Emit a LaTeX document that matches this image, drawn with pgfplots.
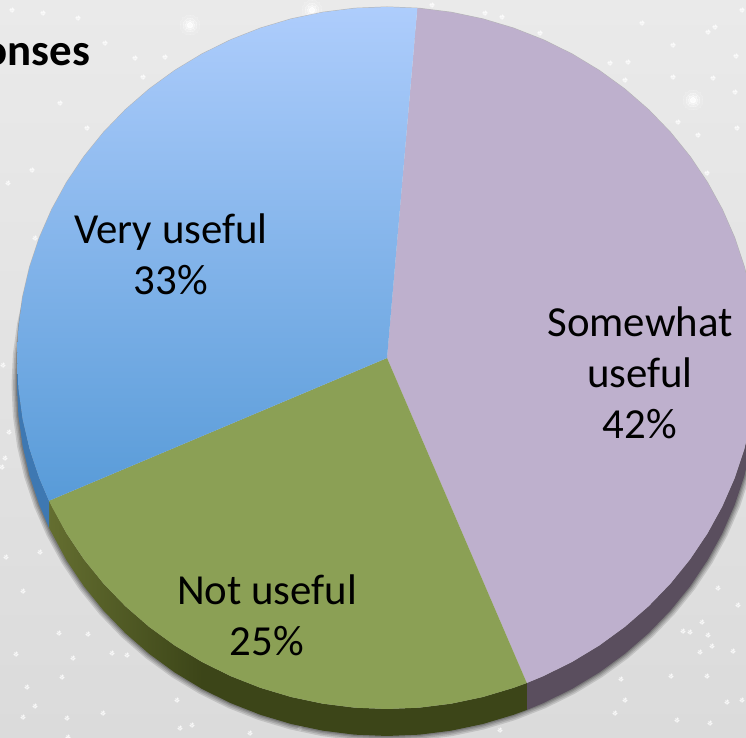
\documentclass[border=0pt]{standalone}
\usepackage{fontspec}
\setmainfont{Carlito}
\usepackage{pgfplots}
\usepackage{pgfplotstable}
\pgfplotsset{compat=1.18}
\definecolor{bgT}{RGB}{234,234,234}
\definecolor{bgM}{RGB}{236,236,236}
\definecolor{bgB}{RGB}{219,219,219}
\definecolor{blueT}{RGB}{174,205,252}
\definecolor{blueM}{RGB}{132,179,233}
\definecolor{blueB}{RGB}{88,155,216}
\definecolor{purp}{RGB}{190,176,205}
\definecolor{grn}{RGB}{139,160,85}
\definecolor{purpS}{RGB}{90,78,94}
\definecolor{grnD}{RGB}{60,69,24}
\definecolor{grnL}{RGB}{100,110,48}
\definecolor{blueS}{RGB}{62,120,178}
\pgfplotstableread[row sep=\\]{
a r\\0 1\\5 1\\10 1\\15 1\\20 1\\25 1\\30 1\\35 1\\40 1\\45 1\\50 1\\55 1\\60 1\\65 1\\70 1\\75 1\\80 1\\85 1\\90 1\\95 1\\100 1\\105 1\\110 1\\115 1\\120 1\\125 1\\130 1\\135 1\\140 1\\145 1\\150 1\\155 1\\160 1\\165 1\\170 1\\175 1\\180 1\\185 1\\190 1\\195 1\\200 1\\205 1\\210 1\\215 1\\220 1\\225 1\\230 1\\235 1\\240 1\\245 1\\250 1\\255 1\\260 1\\265 1\\270 1\\275 1\\280 1\\285 1\\290 1\\295 1\\300 1\\305 1\\310 1\\315 1\\320 1\\325 1\\330 1\\335 1\\340 1\\345 1\\350 1\\355 1\\360 1\\
}\ring
\pgfplotstableread[row sep=\\]{
x y\\698 135\\707 173\\736 56\\742 10\\715 27\\737 128\\735 92\\502 17\\485 13\\540 33\\610 63\\642 23\\673 45\\708 32\\673 77\\625 80\\628 62\\713 78\\678 122\\60 103\\87 128\\32 170\\8 183\\35 238\\12 10\\43 13\\165 57\\143 77\\105 43\\135 58\\78 18\\432 5\\9 432\\3 365\\2 467\\5 458\\40 552\\6 557\\23 591\\88 634\\59 633\\16 654\\73 658\\112 653\\127 655\\62 677\\27 687\\35 706\\23 717\\67 718\\103 713\\177 700\\180 728\\192 725\\68 737\\621 679\\671 676\\707 676\\712 646\\702 622\\708 635\\733 651\\700 652\\683 631\\690 632\\615 713\\710 723\\677 720\\742 700\\718 588\\738 605\\625 700\\727 702\\300 728\\500 730\\250 733\\
}\stars
\begin{document}
\begin{tikzpicture}
\useasboundingbox (0,0) rectangle (746bp,738bp);
\clip (0,0) rectangle (746bp,738bp);
% background in picture pixels
\begin{axis}[at={(0,0)},anchor=south west,scale only axis,width=746bp,height=738bp,
  hide axis,xmin=0,xmax=746,ymin=0,ymax=738,y dir=reverse]
\addplot[draw=none,top color=bgT,middle color=bgM,bottom color=bgB] coordinates {(0,0)(746,0)(746,738)(0,738)};
\addplot[white,only marks,mark=*,mark size=2.4pt,opacity=0.2,mark options={white,line width=0pt}] table[x=x,y=y] {\stars};
\addplot[white,only marks,mark=*,mark size=1.1pt,opacity=0.5,mark options={white,line width=0pt}] table[x=x,y=y] {\stars};
% large glows
\addplot[white,only marks,mark=*,mark size=10pt,opacity=0.12,mark options={white,line width=0pt}] coordinates {(693,100)(190,25)(312,10)};
\addplot[white,only marks,mark=*,mark size=7pt,opacity=0.2,mark options={white,line width=0pt}] coordinates {(693,100)(190,25)(312,10)};
\addplot[white,only marks,mark=*,mark size=4.5pt,opacity=0.35,mark options={white,line width=0pt}] coordinates {(693,100)(190,25)(312,10)};
\addplot[white,only marks,mark=*,mark size=2.5pt,opacity=0.7,mark options={white,line width=0pt}] coordinates {(693,100)(190,25)(312,10)};
\end{axis}
% pie
\begin{axis}[at={(0,0)},anchor=south west,scale only axis,width=746bp,height=738bp,
  hide axis,xmin=-1.04595,xmax=0.97027,ymin=-1.08262,ymax=1.01994]
% shadow
\addplot[data cs=polar,draw=black,opacity=0.12,line width=11bp,yshift=-27bp,no marks] table[x=a,y=r] {\ring};
\addplot[data cs=polar,draw=black,opacity=0.12,line width=8bp,yshift=-27bp,no marks] table[x=a,y=r] {\ring};
\addplot[data cs=polar,draw=black,opacity=0.14,line width=5bp,yshift=-27bp,no marks] table[x=a,y=r] {\ring};
\addplot[data cs=polar,draw=black,opacity=0.16,line width=2.5bp,yshift=-27bp,no marks] table[x=a,y=r] {\ring};
\addplot[data cs=polar,draw=black,opacity=0.22,line width=1bp,no marks] table[x=a,y=r] {\ring};
% sides
\addplot[draw=none,fill=purpS] coordinates {
(.3778,-.9259)(.4226,-.9063)(.5,-.8660)(.5736,-.8192)(.6428,-.7660)(.7071,-.7071)(.7660,-.6428)(.8192,-.5736)(.8660,-.5)(.9063,-.4226)(.9397,-.3420)(.9659,-.2588)(.9848,-.1736)(.9962,-.0872)(1,0)
(1,-.0769)(.9962,-.1641)(.9848,-.2505)(.9659,-.3357)(.9397,-.4189)(.9063,-.4995)(.8660,-.5769)(.8192,-.6505)(.7660,-.7197)(.7071,-.7840)(.6428,-.8429)(.5736,-.8961)(.5,-.9429)(.4226,-.9832)(.3778,-1.0028)};
\addplot[draw=none,left color=grnL,right color=grnD] coordinates {
(-.9135,-.4067)(-.8660,-.5)(-.8192,-.5736)(-.7660,-.6428)(-.7071,-.7071)(-.6428,-.7660)(-.5736,-.8192)(-.5,-.8660)
(-.5,-.9429)(-.5736,-.8961)(-.6428,-.8429)(-.7071,-.7840)(-.7660,-.7197)(-.8192,-.6505)(-.8660,-.5769)(-.9135,-.4836)};
\addplot[draw=none,fill=grnD] coordinates {
(-.5,-.8660)(-.4226,-.9063)(-.3420,-.9397)(-.2588,-.9659)(-.1736,-.9848)(-.0872,-.9962)(0,-1)(.0872,-.9962)(.1736,-.9848)(.2588,-.9659)(.3420,-.9397)(.3778,-.9259)
(.3778,-1.0028)(.3420,-1.0166)(.2588,-1.0428)(.1736,-1.0617)(.0872,-1.0731)(0,-1.0769)(-.0872,-1.0731)(-.1736,-1.0617)(-.2588,-1.0428)(-.3420,-1.0166)(-.4226,-.9832)(-.5,-.9429)};
\addplot[draw=none,fill=blueS] coordinates {
(-1,0)(-.9962,-.0872)(-.9848,-.1736)(-.9659,-.2588)(-.9397,-.3420)(-.9135,-.4067)
(-.9135,-.4836)(-.9397,-.4189)(-.9659,-.3357)(-.9848,-.2505)(-.9962,-.1641)(-1,-.0769)};
% slices (angle, radius)
\addplot[data cs=polar,draw=none,fill=purp] coordinates {
(0,0)(85.3,1)(85,1)(80,1)(75,1)(70,1)(65,1)(60,1)(55,1)(50,1)(45,1)(40,1)(35,1)(30,1)(25,1)(20,1)(15,1)(10,1)(5,1)(0,1)(-5,1)(-10,1)(-15,1)(-20,1)(-25,1)(-30,1)(-35,1)(-40,1)(-45,1)(-50,1)(-55,1)(-60,1)(-65,1)(-67.8,1)};
\addplot[data cs=polar,draw=none,fill=grn] coordinates {
(0,0)(-67.8,1)(-70,1)(-75,1)(-80,1)(-85,1)(-90,1)(-95,1)(-100,1)(-105,1)(-110,1)(-115,1)(-120,1)(-125,1)(-130,1)(-135,1)(-140,1)(-145,1)(-150,1)(-155,1)(-156,1)};
\addplot[data cs=polar,draw=none,top color=blueT,middle color=blueM,bottom color=blueB] coordinates {
(0,0)(204,1)(200,1)(195,1)(190,1)(185,1)(180,1)(175,1)(170,1)(165,1)(160,1)(155,1)(150,1)(145,1)(140,1)(135,1)(130,1)(125,1)(120,1)(115,1)(110,1)(105,1)(100,1)(95,1)(90,1)(85.3,1)};
% labels
\node[align=center,font=\fontsize{43}{51}\selectfont] at (axis cs:-.5838,.2960) {Very useful\\33\%};
\node[align=center,font=\fontsize{43}{51}\selectfont] at (axis cs:.6838,-.0430) {Somewhat\\useful\\42\%};
\node[align=center,font=\fontsize{43}{51}\selectfont] at (axis cs:-.3243,-.7325) {Not useful\\25\%};
\node[anchor=base east,inner sep=0pt,font=\fontsize{45}{50}\selectfont\bfseries] at (axis cs:-.8014,.8319) {onses};
\end{axis}
\end{tikzpicture}
\end{document}
